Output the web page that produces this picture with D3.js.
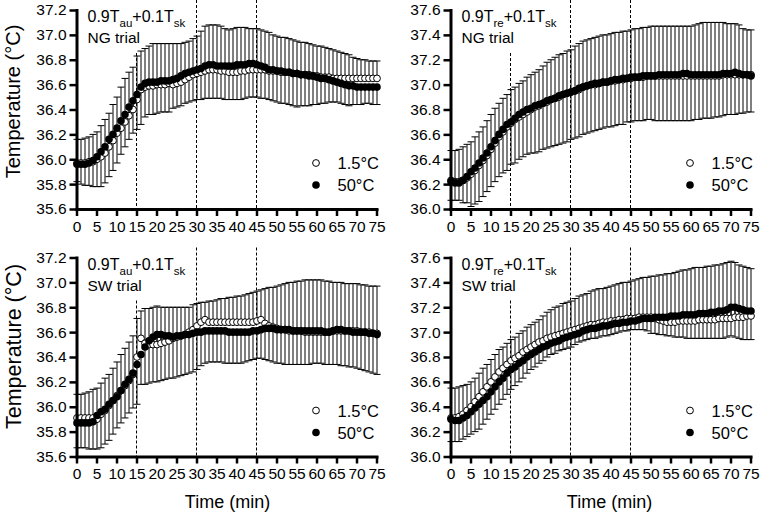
<!DOCTYPE html>
<html><head><meta charset="utf-8">
<script src="https://cdn.jsdelivr.net/npm/d3@7"></script>
<style>
html,body{margin:0;padding:0;background:#fff;}
svg{display:block;font-family:"Liberation Sans",Arial,Helvetica,sans-serif;}
</style></head>
<body>
<svg id="chart" width="762" height="515"></svg>
<script>
// ---------- data ----------
const time = [0,1,2,3,4,5,6,7,8,9,10,11,12,13,14,15,16,17,18,19,20,21,22,23,24,25,26,27,28,29,30,31,32,33,34,35,36,37,38,39,40,41,42,43,44,45,46,47,48,49,50,51,52,53,54,55,56,57,58,59,60,61,62,63,64,65,66,67,68,69,70,71,72,73,74,75];
const xTicks = [0,5,10,15,20,25,30,35,40,45,50,55,60,65,70,75];
const yTicksAu = [35.6,35.8,36.0,36.2,36.4,36.6,36.8,37.0,37.2];
const yTicksRe = [36.0,36.2,36.4,36.6,36.8,37.0,37.2,37.4,37.6];
const phaseLines = [15,30,45];
const legendLabels = ["1.5°C","50°C"];

// 0.9Tau+0.1Tsk, NG trial
const auNG_cold = [35.97,35.97,35.97,35.98,35.98,36.00,36.02,36.05,36.10,36.15,
 36.21,36.25,36.30,36.35,36.40,36.48,36.56,36.58,36.59,36.59,
 36.60,36.60,36.60,36.61,36.60,36.61,36.62,36.64,36.66,36.68,
 36.69,36.70,36.71,36.72,36.72,36.72,36.71,36.71,36.70,36.70,
 36.70,36.71,36.71,36.72,36.72,36.72,36.72,36.72,36.71,36.71,
 36.71,36.70,36.70,36.70,36.69,36.69,36.68,36.68,36.68,36.67,
 36.67,36.66,36.66,36.66,36.65,36.65,36.65,36.65,36.65,36.65,
 36.65,36.65,36.65,36.65,36.65,36.65];
const auNG_coldSD = [.19,.19,.20,.20,.22,.22,.25,.27,.27,.29,
 .29,.33,.35,.35,.34,.35,.31,.31,.32,.34,
 .33,.33,.33,.32,.33,.32,.31,.30,.29,.29,
 .30,.33,.36,.36,.36,.36,.36,.34,.34,.35,
 .36,.35,.35,.33,.33,.33,.32,.31,.31,.29,
 .28,.28,.28,.27,.27,.26,.26,.26,.25,.25,
 .24,.25,.24,.23,.23,.22,.21,.20,.19,.17,
 .16,.15,.15,.14,.14,.14];
const auNG_hot = [35.96,35.96,35.96,35.97,35.99,36.02,36.06,36.10,36.16,36.20,
 36.25,36.31,36.36,36.42,36.47,36.52,36.58,36.61,36.62,36.62,
 36.62,36.63,36.63,36.63,36.64,36.65,36.67,36.69,36.70,36.71,
 36.72,36.73,36.75,36.76,36.76,36.75,36.75,36.75,36.75,36.75,
 36.76,36.76,36.76,36.77,36.77,36.76,36.75,36.74,36.72,36.72,
 36.71,36.71,36.70,36.70,36.69,36.69,36.68,36.68,36.67,36.67,
 36.66,36.65,36.65,36.64,36.63,36.62,36.61,36.60,36.59,36.59,
 36.58,36.58,36.58,36.58,36.58,36.58];
const auNG_hotSD = [.14,.16,.17,.18,.21,.24,.28,.29,.30,.29,
 .28,.27,.26,.26,.26,.28,.30,.27,.26,.26,
 .25,.25,.25,.25,.23,.23,.24,.24,.24,.24,
 .24,.25,.26,.27,.27,.26,.26,.27,.27,.27,
 .28,.28,.27,.27,.27,.26,.26,.25,.24,.25,
 .25,.26,.25,.26,.26,.27,.25,.25,.24,.23,
 .22,.20,.20,.18,.17,.16,.16,.16,.16,.15,
 .14,.14,.13,.13,.14,.14];

// 0.9Tre+0.1Tsk, NG trial
const reNG_cold = [36.23,36.22,36.22,36.23,36.25,36.28,36.31,36.35,36.39,36.43,
 36.48,36.53,36.58,36.62,36.66,36.69,36.72,36.74,36.76,36.78,
 36.80,36.82,36.83,36.85,36.86,36.88,36.89,36.90,36.92,36.93,
 36.94,36.95,36.96,36.98,36.99,37.00,37.00,37.01,37.02,37.02,
 37.03,37.03,37.04,37.04,37.05,37.05,37.06,37.06,37.06,37.07,
 37.07,37.07,37.07,37.07,37.07,37.07,37.07,37.07,37.07,37.07,
 37.07,37.07,37.07,37.07,37.07,37.07,37.07,37.07,37.08,37.08,
 37.08,37.08,37.08,37.08,37.08,37.08];
const reNG_coldSD = [.24,.25,.26,.27,.27,.26,.27,.27,.27,.28,
 .28,.28,.27,.27,.26,.27,.26,.27,.27,.28,
 .28,.28,.29,.30,.32,.32,.33,.34,.33,.34,
 .34,.36,.37,.37,.37,.37,.38,.38,.38,.38,
 .38,.39,.38,.39,.38,.39,.39,.39,.40,.39,
 .40,.40,.40,.40,.40,.40,.40,.40,.40,.40,
 .40,.41,.42,.43,.43,.43,.43,.43,.42,.41,
 .41,.41,.40,.37,.36,.36];
const reNG_hot = [36.22,36.21,36.21,36.23,36.26,36.30,36.33,36.37,36.41,36.45,
 36.50,36.55,36.60,36.64,36.68,36.70,36.73,36.76,36.78,36.80,
 36.81,36.83,36.84,36.85,36.87,36.88,36.89,36.91,36.92,36.93,
 36.94,36.95,36.97,36.98,36.99,37.00,37.01,37.01,37.02,37.02,
 37.03,37.04,37.04,37.05,37.05,37.06,37.06,37.06,37.07,37.07,
 37.07,37.07,37.08,37.08,37.08,37.08,37.08,37.08,37.09,37.09,
 37.08,37.08,37.08,37.08,37.08,37.08,37.08,37.08,37.09,37.09,
 37.09,37.10,37.09,37.08,37.08,37.07];
const reNG_hotSD = [.15,.14,.14,.18,.21,.28,.29,.31,.31,.31,
 .32,.33,.34,.35,.37,.34,.36,.36,.36,.36,
 .36,.38,.38,.37,.38,.38,.38,.39,.39,.39,
 .38,.38,.39,.38,.38,.38,.38,.37,.37,.36,
 .37,.37,.36,.37,.35,.36,.35,.35,.36,.35,
 .35,.36,.37,.37,.37,.37,.37,.37,.38,.38,
 .37,.36,.36,.35,.35,.35,.34,.34,.34,.33,
 .33,.34,.32,.31,.30,.29];

// 0.9Tau+0.1Tsk, SW trial
const auSW_cold = [35.91,35.91,35.91,35.91,35.91,35.90,35.94,35.97,36.01,36.05,
 36.09,36.13,36.17,36.21,36.26,36.40,36.55,36.51,36.50,36.50,
 36.50,36.51,36.52,36.53,36.55,36.56,36.57,36.58,36.60,36.62,
 36.65,36.68,36.70,36.68,36.68,36.68,36.68,36.68,36.68,36.68,
 36.68,36.68,36.68,36.68,36.68,36.69,36.70,36.67,36.65,36.64,
 36.63,36.62,36.62,36.61,36.61,36.61,36.61,36.60,36.60,36.60,
 36.60,36.60,36.60,36.60,36.61,36.61,36.61,36.61,36.61,36.61,
 36.61,36.60,36.60,36.60,36.59,36.59];
const auSW_coldSD = [.19,.19,.20,.21,.23,.25,.25,.26,.25,.26,
 .27,.29,.30,.31,.31,.31,.22,.28,.29,.30,
 .31,.29,.28,.27,.25,.24,.23,.22,.20,.20,
 .18,.16,.14,.17,.17,.18,.19,.19,.20,.20,
 .21,.21,.22,.23,.24,.24,.24,.28,.31,.32,
 .34,.36,.37,.39,.39,.40,.40,.42,.42,.42,
 .42,.42,.41,.41,.39,.39,.39,.38,.38,.38,
 .38,.38,.38,.37,.38,.38];
const auSW_hot = [35.87,35.87,35.87,35.87,35.88,35.93,35.96,35.98,36.02,36.05,
 36.08,36.13,36.18,36.22,36.27,36.34,36.42,36.48,36.53,36.56,
 36.58,36.58,36.57,36.57,36.56,36.57,36.57,36.58,36.58,36.59,
 36.60,36.60,36.61,36.61,36.61,36.61,36.61,36.61,36.60,36.60,
 36.60,36.60,36.60,36.60,36.61,36.61,36.62,36.63,36.63,36.63,
 36.62,36.62,36.62,36.62,36.61,36.61,36.61,36.61,36.61,36.61,
 36.61,36.61,36.60,36.60,36.61,36.62,36.62,36.61,36.61,36.60,
 36.60,36.60,36.60,36.59,36.59,36.58];
const auSW_hotSD = [.20,.20,.20,.21,.22,.27,.29,.28,.29,.27,
 .25,.26,.27,.27,.28,.32,.24,.30,.34,.36,
 .38,.37,.35,.34,.33,.33,.32,.32,.31,.31,
 .30,.27,.26,.25,.25,.25,.25,.26,.25,.25,
 .25,.25,.24,.23,.23,.22,.23,.25,.26,.27,
 .27,.27,.28,.28,.27,.27,.27,.27,.27,.26,
 .26,.26,.26,.26,.27,.28,.29,.28,.29,.28,
 .29,.30,.31,.31,.32,.32];

// 0.9Tre+0.1Tsk, SW trial
const reSW_cold = [36.31,36.31,36.32,36.34,36.37,36.40,36.44,36.48,36.52,36.56,
 36.60,36.64,36.68,36.71,36.74,36.77,36.79,36.81,36.84,36.86,
 36.88,36.90,36.92,36.93,36.95,36.96,36.97,36.98,36.99,37.00,
 37.01,37.02,37.03,37.04,37.05,37.06,37.06,37.07,37.08,37.08,
 37.09,37.09,37.10,37.10,37.11,37.11,37.11,37.12,37.12,37.12,
 37.12,37.11,37.10,37.09,37.08,37.08,37.08,37.09,37.09,37.09,
 37.09,37.09,37.10,37.10,37.10,37.10,37.10,37.11,37.11,37.11,
 37.11,37.12,37.12,37.12,37.13,37.13];
const reSW_coldSD = [.24,.24,.24,.23,.21,.20,.19,.19,.19,.18,
 .18,.18,.18,.17,.17,.17,.17,.18,.17,.18,
 .18,.18,.18,.20,.21,.22,.23,.23,.24,.24,
 .24,.25,.26,.26,.26,.27,.28,.28,.27,.28,
 .28,.29,.29,.30,.29,.30,.31,.31,.32,.32,
 .33,.34,.36,.37,.39,.39,.40,.40,.41,.41,
 .42,.43,.42,.42,.43,.43,.44,.43,.44,.45,
 .46,.44,.42,.41,.39,.38];
const reSW_hot = [36.30,36.29,36.29,36.31,36.33,36.36,36.39,36.42,36.45,36.48,
 36.52,36.56,36.60,36.63,36.67,36.70,36.72,36.75,36.77,36.80,
 36.82,36.84,36.86,36.88,36.89,36.91,36.92,36.93,36.95,36.96,
 36.97,36.98,36.99,37.01,37.02,37.03,37.03,37.04,37.05,37.05,
 37.06,37.07,37.07,37.08,37.08,37.09,37.09,37.10,37.11,37.11,
 37.11,37.12,37.12,37.12,37.12,37.13,37.13,37.13,37.14,37.14,
 37.14,37.14,37.15,37.15,37.15,37.16,37.16,37.17,37.17,37.18,
 37.20,37.20,37.19,37.18,37.17,37.17];
const reSW_hotSD = [.18,.17,.17,.17,.17,.18,.19,.20,.19,.18,
 .18,.18,.18,.17,.17,.16,.15,.15,.14,.13,
 .12,.12,.11,.11,.09,.09,.09,.08,.09,.09,
 .09,.08,.07,.08,.08,.08,.08,.08,.08,.08,
 .08,.08,.07,.07,.07,.07,.07,.08,.09,.10,
 .12,.13,.14,.14,.15,.16,.17,.17,.18,.19,
 .19,.19,.20,.20,.20,.21,.21,.22,.22,.22,
 .23,.24,.24,.24,.23,.23];

// ---------- layout ----------
const panels = [
  {left:76.5, top:10, sub:"au", trial:"NG trial", yTicks:yTicksAu, cold:auNG_cold, coldSD:auNG_coldSD, hot:auNG_hot, hotSD:auNG_hotSD, xTitle:null, yTitle:{x:20, y:101.5, size:20}},
  {left:450.5, top:10, sub:"re", trial:"NG trial", yTicks:yTicksRe, cold:reNG_cold, coldSD:reNG_coldSD, hot:reNG_hot, hotSD:reNG_hotSD, xTitle:null, yTitle:null},
  {left:76.5, top:257.5, sub:"au", trial:"SW trial", yTicks:yTicksAu, cold:auSW_cold, coldSD:auSW_coldSD, hot:auSW_hot, hotSD:auSW_hotSD, xTitle:{x:227.5}, yTitle:{x:21, y:346.5, size:21.5}},
  {left:450.5, top:257.5, sub:"re", trial:"SW trial", yTicks:yTicksRe, cold:reSW_cold, coldSD:reSW_coldSD, hot:reSW_hot, hotSD:reSW_hotSD, xTitle:{x:609.5}, yTitle:null}
];
const W = 300, H = 199;
const svg = d3.select("#chart");
svg.append("rect").attr("width",762).attr("height",515).attr("fill","#fff");

panels.forEach(p => {
  const g = svg.append("g").attr("transform",`translate(${p.left},${p.top})`);
  const x = d3.scaleLinear().domain([0,75]).range([0,W]);
  const y = d3.scaleLinear().domain([p.yTicks[0], p.yTicks[p.yTicks.length-1]]).range([H,0]);

  // phase lines
  phaseLines.forEach((t,i) => {
    g.append("line").attr("x1",x(t)).attr("x2",x(t))
      .attr("y1", i===0 ? 43 : -10).attr("y2",H)
      .attr("stroke","#000").attr("stroke-width",1).attr("stroke-dasharray","3,2");
  });

  const cap = 3.5;
  // error bars: 1.5°C upward, 50°C downward
  const eb = g.append("g").attr("stroke","#000").attr("stroke-width",1);
  time.forEach((t,i) => {
    const xc = Math.round(x(t)) + 0.5;
    const yu0 = y(p.cold[i]), yu1 = y(p.cold[i] + p.coldSD[i]);
    eb.append("line").attr("x1",xc).attr("x2",xc).attr("y1",yu0).attr("y2",yu1);
    eb.append("line").attr("x1",xc-cap).attr("x2",xc+cap).attr("y1",yu1).attr("y2",yu1);
    const yd0 = y(p.hot[i]), yd1 = y(p.hot[i] - p.hotSD[i]);
    eb.append("line").attr("x1",xc).attr("x2",xc).attr("y1",yd0).attr("y2",yd1);
    eb.append("line").attr("x1",xc-cap).attr("x2",xc+cap).attr("y1",yd1).attr("y2",yd1);
  });

  // points
  g.append("g").selectAll("circle").data(time).join("circle")
    .attr("cx",(t)=>Math.round(x(t))+0.5).attr("cy",(t,i)=>y(p.cold[i])).attr("r",3.4)
    .attr("fill","#fff").attr("stroke","#000").attr("stroke-width",1);
  g.append("g").selectAll("circle").data(time).join("circle")
    .attr("cx",(t)=>Math.round(x(t))+0.5).attr("cy",(t,i)=>y(p.hot[i])).attr("r",3.8)
    .attr("fill","#000");

  // axes
  const yAxis = g.append("g").call(d3.axisLeft(y).tickValues(p.yTicks).tickFormat(d3.format(".1f")).tickSize(7).tickSizeOuter(0).tickPadding(3));
  const xAxis = g.append("g").attr("transform",`translate(0,${H})`)
    .call(d3.axisBottom(x).tickValues(xTicks).tickFormat(d3.format("d")).tickSize(7).tickSizeOuter(0).tickPadding(4.5));
  [yAxis,xAxis].forEach(a => {
    a.select(".domain").attr("stroke","#000").attr("stroke-width",3).attr("stroke-linecap","square");
    a.selectAll(".tick line").attr("stroke","#000").attr("stroke-width",2.5);
    a.selectAll(".tick text").attr("fill","#000").style("font-size","15.5px").style("font-family","'Liberation Sans',Arial,sans-serif");
  });

  // panel annotation
  const ann = g.append("text").attr("x",11).attr("y",12).attr("font-size",16).attr("fill","#000");
  ann.append("tspan").text("0.9T");
  ann.append("tspan").attr("font-size",11.5).attr("dy",5).text(p.sub);
  ann.append("tspan").attr("dy",-5).text("+0.1T");
  ann.append("tspan").attr("font-size",11.5).attr("dy",5).text("sk");
  g.append("text").attr("x",11).attr("y",33).attr("font-size",15.5).attr("fill","#000").text(p.trial);

  // legend
  const lg = g.append("g");
  lg.append("circle").attr("cx",239.5).attr("cy",153).attr("r",3.4).attr("fill","#fff").attr("stroke","#000").attr("stroke-width",1);
  lg.append("circle").attr("cx",239.5).attr("cy",175).attr("r",3.8).attr("fill","#000");
  lg.append("text").attr("x",261).attr("y",159).attr("font-size",16.5).attr("fill","#000").text(legendLabels[0]);
  lg.append("text").attr("x",261).attr("y",181).attr("font-size",16.5).attr("fill","#000").text(legendLabels[1]);

  if (p.yTitle) {
    svg.append("text").attr("transform",`translate(${p.yTitle.x},${p.yTitle.y}) rotate(-90)`)
      .attr("text-anchor","middle").attr("font-size",p.yTitle.size).attr("fill","#000").text("Temperature (°C)");
  }
  if (p.xTitle) {
    svg.append("text").attr("x",p.xTitle.x).attr("y",508).attr("text-anchor","middle")
      .attr("font-size",18).attr("fill","#000").text("Time (min)");
  }
});
</script>
</body></html>
